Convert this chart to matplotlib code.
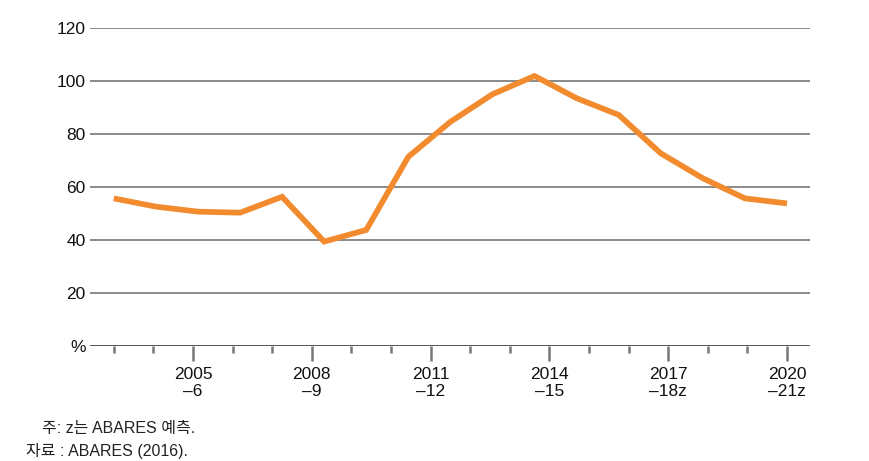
import matplotlib.pyplot as plt
import numpy as np

plt.rcParams['font.family'] = ['Liberation Sans', 'Noto Sans CJK KR', 'DejaVu Sans']

# share of value (%), 2003-04 .. 2019-20
values = [55.7, 52.6, 50.7, 50.3, 56.3, 39.4, 43.8, 71.4, 84.6, 95.0,
          101.9, 93.5, 87.2, 72.7, 63.3, 55.7, 53.8]
n_ticks = 18
major_idx = [2, 5, 8, 11, 14, 17]
major_labels = ['2005\n\u20136', '2008\n\u20139', '2011\n\u201312',
                '2014\n\u201315', '2017\n\u201318z', '2020\n\u201321z']
y_ticks = [0, 20, 40, 60, 80, 100, 120]
y_labels = ['%', '20', '40', '60', '80', '100', '120']
note1 = '주: z는 ABARES 예측.'
note2 = '자료 : ABARES (2016).'

fig = plt.figure(figsize=(8.69, 4.61), dpi=100)
ax = fig.add_axes([90 / 869, 1 - 346 / 461, 720 / 869, 318 / 461])

for y in y_ticks:
    ax.axhline(y, color='#555555' if y == 0 else '#8a8a8a', lw=1.4, zorder=1)

x = np.linspace(0, n_ticks - 1, len(values))
ax.plot(x, values, color='#F28A2E', lw=4.1, solid_joinstyle='miter',
        solid_capstyle='butt', zorder=3, clip_on=False)

ax.set_xlim(-0.6, n_ticks - 1 + 0.58)
ax.set_ylim(0, 120)
for s in ax.spines.values():
    s.set_visible(False)

ax.set_yticks(y_ticks)
ax.set_yticklabels(y_labels, fontsize=12.5, color='#111111')
ax.tick_params(axis='y', length=0, pad=3)

minor = [i for i in range(n_ticks) if i not in major_idx]
ax.set_xticks(major_idx)
ax.set_xticklabels(major_labels, fontsize=12.5, color='#111111', linespacing=1.2)
ax.set_xticks(minor, minor=True)
ax.tick_params(axis='x', which='major', length=11, width=1.8, color='#777777',
               pad=4, direction='out')
ax.tick_params(axis='x', which='minor', length=5, width=1.8, color='#777777',
               direction='out')

fig.text(42 / 869, 1 - 428 / 461, note1, fontsize=11.5, color='#222222',
         va='center', ha='left')
fig.text(26 / 869, 1 - 451 / 461, note2, fontsize=11.5, color='#222222',
         va='center', ha='left')

fig.savefig('out.png', dpi=100)
